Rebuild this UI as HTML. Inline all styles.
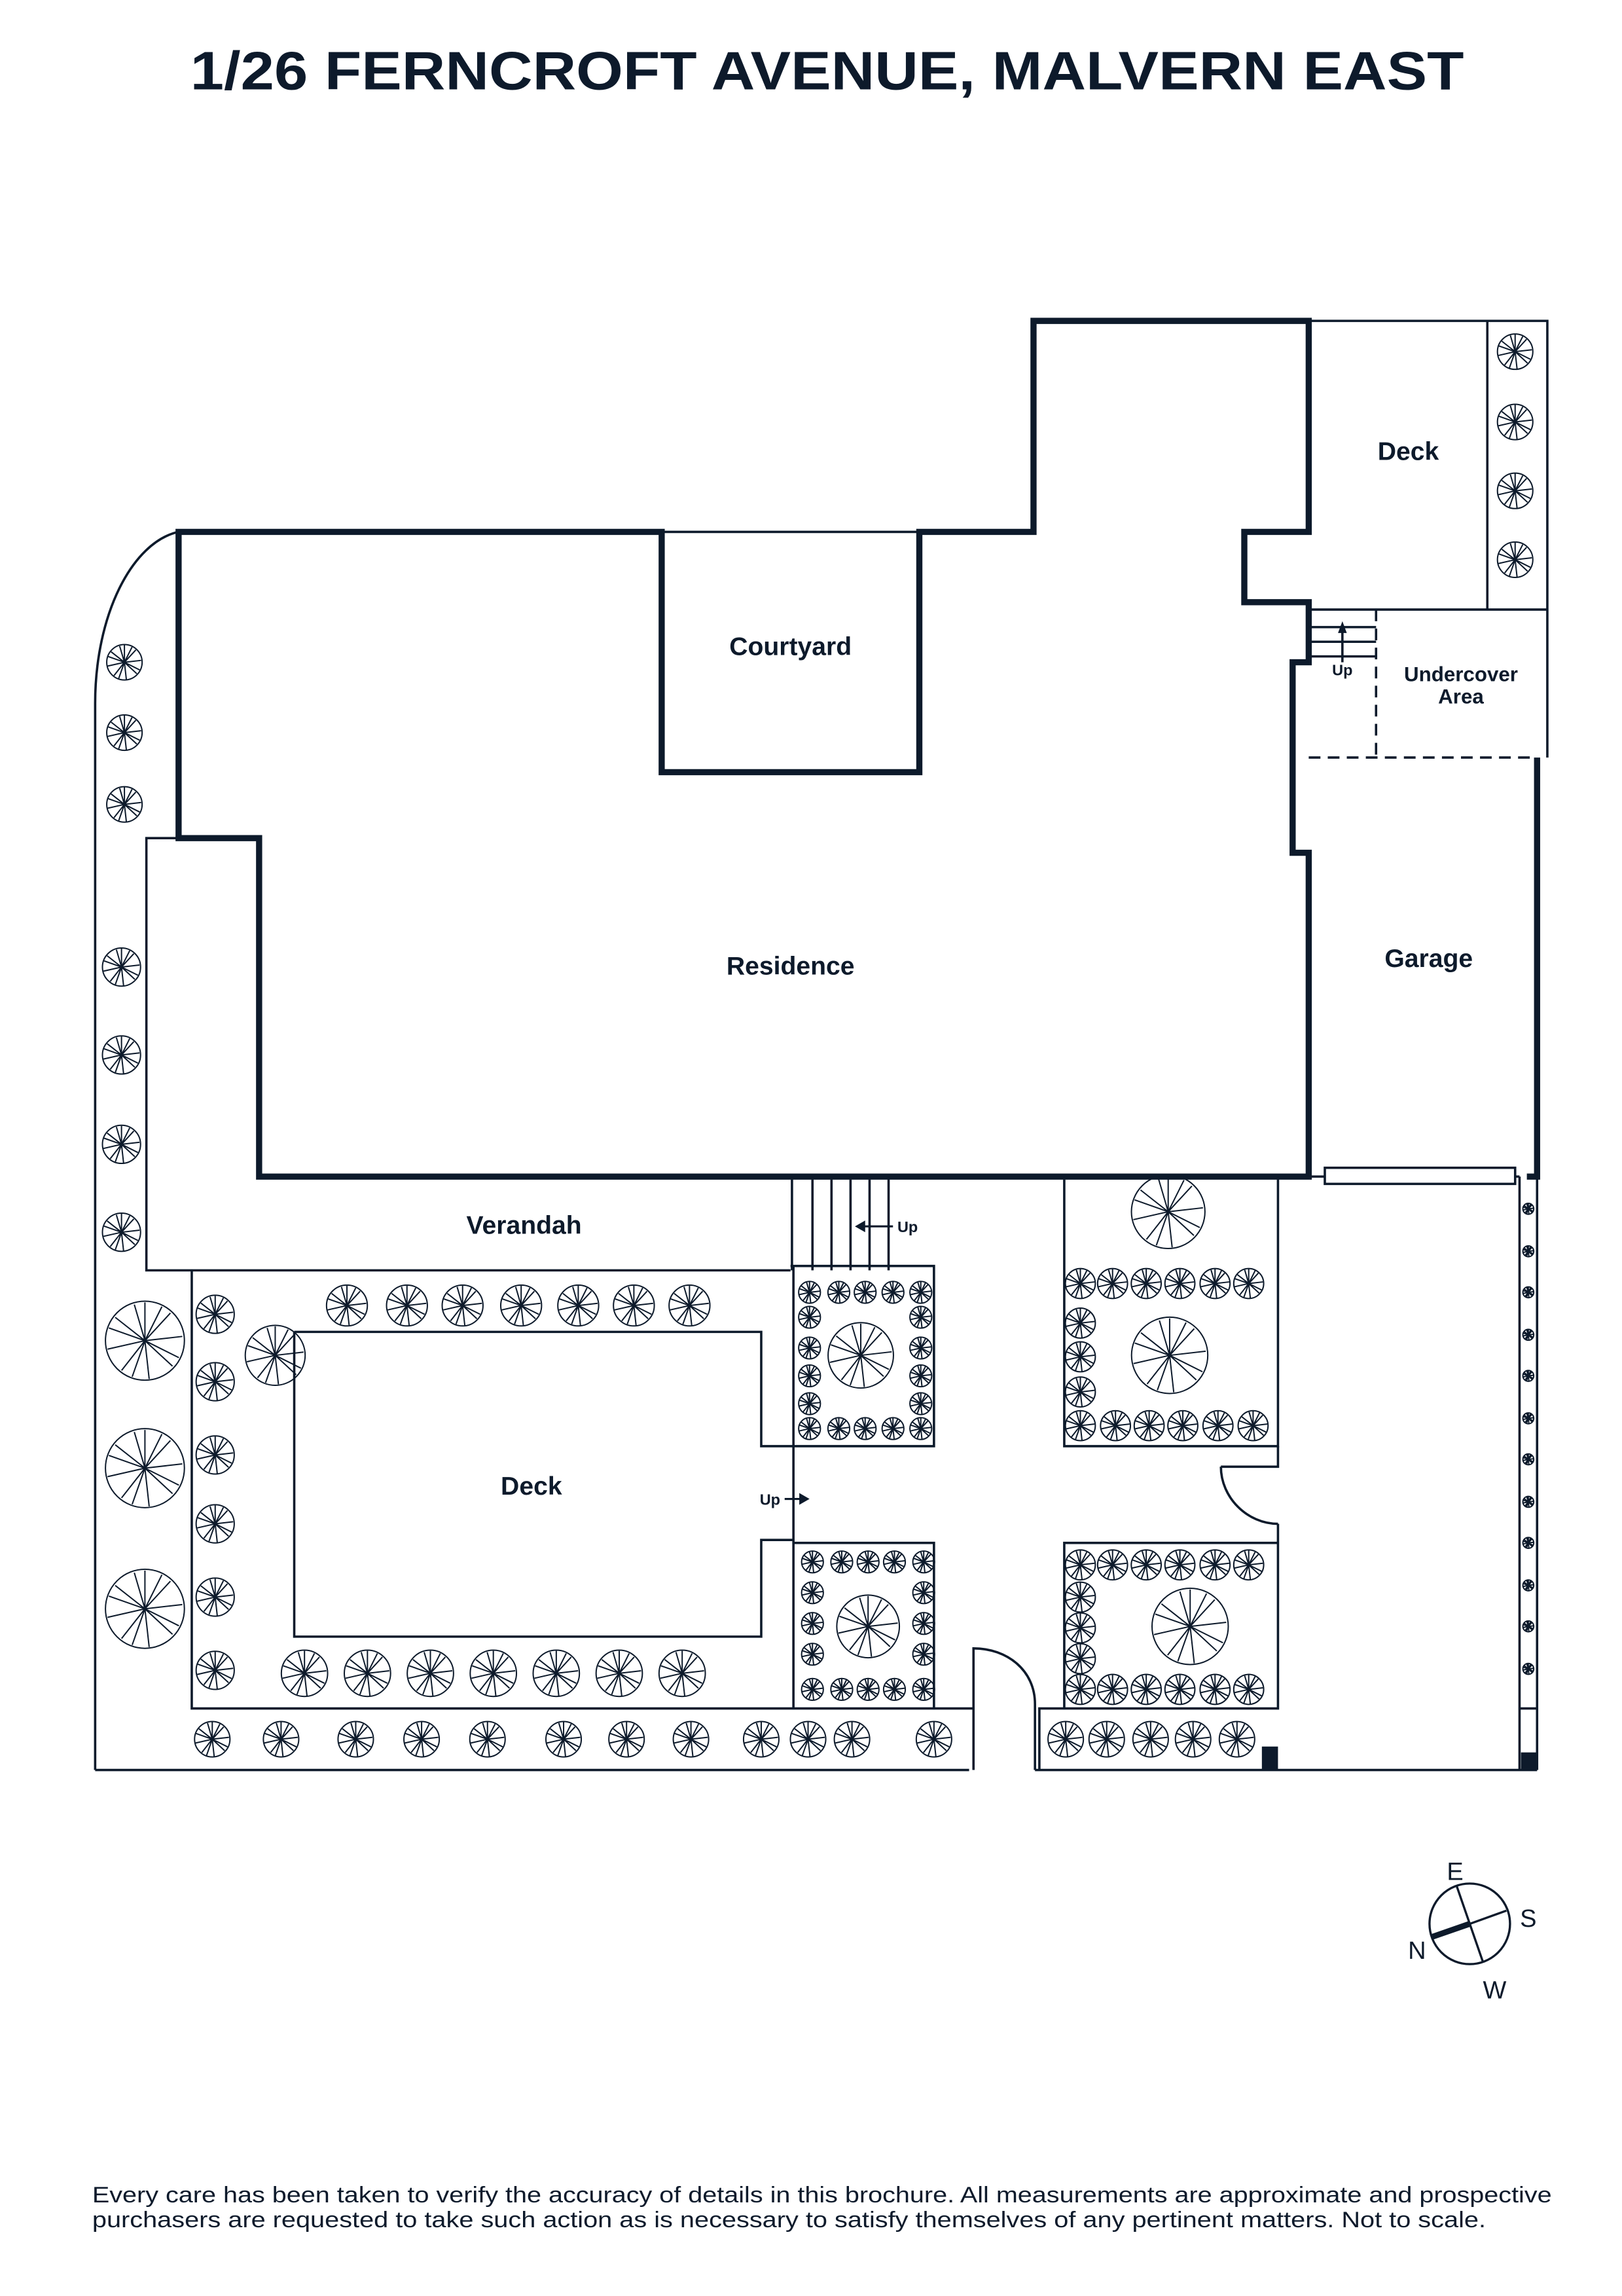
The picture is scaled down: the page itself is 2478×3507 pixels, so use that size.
<!DOCTYPE html>
<html><head><meta charset="utf-8"><style>
html,body{margin:0;padding:0;background:#fff;}
svg{display:block;}
text{font-family:"Liberation Sans",sans-serif;fill:#0d1a2b;}
</style></head><body>
<svg width="2478" height="3507" viewBox="0 0 1108 1567" preserveAspectRatio="none" xmlns="http://www.w3.org/2000/svg">
<defs>
<symbol id="t" viewBox="-10 -10 20 20" overflow="visible">
<g fill="none" stroke="#0d1a2b" stroke-width="2" vector-effect="non-scaling-stroke">
<circle r="9.3" vector-effect="non-scaling-stroke"/>
<path vector-effect="non-scaling-stroke" d="M0 0L0 -9M0 0L4 -8M0 0L6 -6.5M0 0L8.8 -1M0 0L8 4M0 0L6.5 6M0 0L1 9M0 0L-3 8.5M0 0L-5.5 7M0 0L-8.8 2M0 0L-8.5 -3M0 0L-7 -5.5M0 0L-2.5 -8.5"/>
</g>
</symbol>
</defs>
<rect width="1108" height="1567" fill="#fff"/>
<text x="565" y="61" font-size="37" font-weight="bold" text-anchor="middle" textLength="870" lengthAdjust="spacingAndGlyphs">1/26 FERNCROFT AVENUE, MALVERN EAST</text>

<g fill="none" stroke="#0d1a2b" stroke-width="1.6">
<path d="M65 1208 L65 480 C65 420 90 370 122 363"/>
<path d="M122 572 L100 572 L100 867 L540 867"/>
<path d="M131 867 L131 1166 L665 1166"/>
<path d="M65 1208 L662 1208"/>
<path d="M707 1208 L1050 1208"/>
<path d="M201 909 L520 909 L520 987 L542 987"/>
<path d="M201 909 L201 1117 L520 1117 L520 1051 L542 1051"/>
<path d="M542 864 L542 1166"/>
<path d="M540 864 L638 864 L638 987 L542 987"/>
<path d="M542 1053 L638 1053 L638 1166"/>
<path d="M541 805 V867 M555 805 V867 M568 805 V867 M581 805 V867 M594 805 V867 M607 805 V867"/>
<path d="M727 805 L727 987 L873 987 L873 805"/>
<path d="M727 1166 L727 1053 L873 1053"/>
<path d="M873 1040 L873 1166 L710 1166 L710 1208"/>
<path d="M873 987 L873 1001 L834 1001"/>
<path d="M834 1001 C834 1022 852 1040 873 1040"/>
<path d="M665 1208 L665 1125 C688 1125 707 1140 707 1163 L707 1208"/>
<path d="M894 803 L1038 803"/>
<path d="M1038 803 L1038 1208 M1050 803 L1050 1208 M1038 1166 L1050 1166"/>
<path d="M894 219 L1057 219 L1057 517 M1016 219 L1016 416 M894 416 L1057 416"/>
<path d="M896 428 H940 M896 438 H940 M896 448 H940"/>
<path d="M917 452 L917 430"/>
<path d="M894 517 L1050 517 M940 416 L940 517" stroke-dasharray="8 5"/>
<rect x="905" y="797" width="130" height="11" fill="#fff"/>
</g>
<path d="M917 424 L914 432 L920 432 Z" fill="#0d1a2b"/>
<path d="M610 837 L588 837" stroke="#0d1a2b" stroke-width="1.4"/>
<path d="M584 837 L591 833 L591 841 Z" fill="#0d1a2b"/>
<path d="M536 1023 L548 1023" stroke="#0d1a2b" stroke-width="1.4"/>
<path d="M553 1023 L546 1019 L546 1027 Z" fill="#0d1a2b"/>

<g fill="none" stroke="#0d1a2b" stroke-width="4.2" stroke-linejoin="miter">
<path d="M122 363 L452 363 L452 527 L628 527 L628 363 L706 363 L706 219 L894 219 L894 363 L850 363 L850 411 L894 411 L894 452 L883 452 L883 582 L894 582 L894 803 L177 803 L177 572 L122 572 Z"/>
<path d="M1050 517 L1050 803 L1043 803"/>
</g>
<path d="M452 363 L628 363" stroke="#0d1a2b" stroke-width="1.6"/>
<rect x="862" y="1192" width="11" height="16" fill="#0d1a2b"/>
<rect x="1039" y="1196" width="11" height="12" fill="#0d1a2b"/>

<g font-weight="bold" font-size="17.5" text-anchor="middle">
<text x="962" y="314">Deck</text>
<text x="540" y="447">Courtyard</text>
<text x="540" y="665">Residence</text>
<text x="976" y="660">Garage</text>
<text x="358" y="842">Verandah</text>
<text x="363" y="1020">Deck</text>
<text x="998" y="465" font-size="14">Undercover</text>
<text x="998" y="480" font-size="14">Area</text>
<text x="917" y="461" font-size="10.5">Up</text>
<text x="620" y="841" font-size="10.5">Up</text>
<text x="526" y="1027" font-size="10.5">Up</text>
</g>

<g>
<use href="#t" x="72" y="439" width="26" height="26"/>
<use href="#t" x="72" y="487" width="26" height="26"/>
<use href="#t" x="72" y="536" width="26" height="26"/>
<use href="#t" x="69" y="646" width="28" height="28"/>
<use href="#t" x="69" y="706" width="28" height="28"/>
<use href="#t" x="69" y="767" width="28" height="28"/>
<use href="#t" x="69" y="827" width="28" height="28"/>
<use href="#t" x="70" y="886" width="58" height="58"/>
<use href="#t" x="70" y="973" width="58" height="58"/>
<use href="#t" x="70" y="1069" width="58" height="58"/>
<use href="#t" x="133" y="883" width="28" height="28"/>
<use href="#t" x="133" y="929" width="28" height="28"/>
<use href="#t" x="133" y="979" width="28" height="28"/>
<use href="#t" x="133" y="1026" width="28" height="28"/>
<use href="#t" x="133" y="1076" width="28" height="28"/>
<use href="#t" x="133" y="1126" width="28" height="28"/>
<use href="#t" x="166" y="903" width="44" height="44"/>
<use href="#t" x="222" y="876" width="30" height="30"/>
<use href="#t" x="263" y="876" width="30" height="30"/>
<use href="#t" x="301" y="876" width="30" height="30"/>
<use href="#t" x="341" y="876" width="30" height="30"/>
<use href="#t" x="380" y="876" width="30" height="30"/>
<use href="#t" x="418" y="876" width="30" height="30"/>
<use href="#t" x="456" y="876" width="30" height="30"/>
<use href="#t" x="191" y="1125" width="34" height="34"/>
<use href="#t" x="234" y="1125" width="34" height="34"/>
<use href="#t" x="277" y="1125" width="34" height="34"/>
<use href="#t" x="320" y="1125" width="34" height="34"/>
<use href="#t" x="363" y="1125" width="34" height="34"/>
<use href="#t" x="406" y="1125" width="34" height="34"/>
<use href="#t" x="449" y="1125" width="34" height="34"/>
<use href="#t" x="132" y="1174" width="26" height="26"/>
<use href="#t" x="179" y="1174" width="26" height="26"/>
<use href="#t" x="230" y="1174" width="26" height="26"/>
<use href="#t" x="275" y="1174" width="26" height="26"/>
<use href="#t" x="320" y="1174" width="26" height="26"/>
<use href="#t" x="372" y="1174" width="26" height="26"/>
<use href="#t" x="415" y="1174" width="26" height="26"/>
<use href="#t" x="459" y="1174" width="26" height="26"/>
<use href="#t" x="507" y="1174" width="26" height="26"/>
<use href="#t" x="539" y="1174" width="26" height="26"/>
<use href="#t" x="569" y="1174" width="26" height="26"/>
<use href="#t" x="625" y="1174" width="26" height="26"/>
<use href="#t" x="545" y="874" width="16" height="16"/>
<use href="#t" x="565" y="874" width="16" height="16"/>
<use href="#t" x="583" y="874" width="16" height="16"/>
<use href="#t" x="602" y="874" width="16" height="16"/>
<use href="#t" x="621" y="874" width="16" height="16"/>
<use href="#t" x="545" y="967" width="16" height="16"/>
<use href="#t" x="565" y="967" width="16" height="16"/>
<use href="#t" x="583" y="967" width="16" height="16"/>
<use href="#t" x="602" y="967" width="16" height="16"/>
<use href="#t" x="621" y="967" width="16" height="16"/>
<use href="#t" x="545" y="891" width="16" height="16"/>
<use href="#t" x="545" y="912" width="16" height="16"/>
<use href="#t" x="545" y="931" width="16" height="16"/>
<use href="#t" x="545" y="950" width="16" height="16"/>
<use href="#t" x="621" y="891" width="16" height="16"/>
<use href="#t" x="621" y="912" width="16" height="16"/>
<use href="#t" x="621" y="931" width="16" height="16"/>
<use href="#t" x="621" y="950" width="16" height="16"/>
<use href="#t" x="564" y="901" width="48" height="48"/>
<use href="#t" x="547" y="1058" width="16" height="16"/>
<use href="#t" x="567" y="1058" width="16" height="16"/>
<use href="#t" x="585" y="1058" width="16" height="16"/>
<use href="#t" x="603" y="1058" width="16" height="16"/>
<use href="#t" x="623" y="1058" width="16" height="16"/>
<use href="#t" x="547" y="1145" width="16" height="16"/>
<use href="#t" x="567" y="1145" width="16" height="16"/>
<use href="#t" x="585" y="1145" width="16" height="16"/>
<use href="#t" x="603" y="1145" width="16" height="16"/>
<use href="#t" x="623" y="1145" width="16" height="16"/>
<use href="#t" x="547" y="1079" width="16" height="16"/>
<use href="#t" x="547" y="1100" width="16" height="16"/>
<use href="#t" x="547" y="1121" width="16" height="16"/>
<use href="#t" x="623" y="1079" width="16" height="16"/>
<use href="#t" x="623" y="1100" width="16" height="16"/>
<use href="#t" x="623" y="1121" width="16" height="16"/>
<use href="#t" x="570" y="1087" width="46" height="46"/>
<use href="#t" x="771" y="797" width="54" height="60"/>
<use href="#t" x="727" y="865" width="22" height="22"/>
<use href="#t" x="749" y="865" width="22" height="22"/>
<use href="#t" x="772" y="865" width="22" height="22"/>
<use href="#t" x="795" y="865" width="22" height="22"/>
<use href="#t" x="819" y="865" width="22" height="22"/>
<use href="#t" x="842" y="865" width="22" height="22"/>
<use href="#t" x="727" y="892" width="22" height="22"/>
<use href="#t" x="727" y="915" width="22" height="22"/>
<use href="#t" x="727" y="939" width="22" height="22"/>
<use href="#t" x="771" y="897" width="56" height="56"/>
<use href="#t" x="727" y="962" width="22" height="22"/>
<use href="#t" x="751" y="962" width="22" height="22"/>
<use href="#t" x="774" y="962" width="22" height="22"/>
<use href="#t" x="797" y="962" width="22" height="22"/>
<use href="#t" x="821" y="962" width="22" height="22"/>
<use href="#t" x="845" y="962" width="22" height="22"/>
<use href="#t" x="727" y="1057" width="22" height="22"/>
<use href="#t" x="749" y="1057" width="22" height="22"/>
<use href="#t" x="772" y="1057" width="22" height="22"/>
<use href="#t" x="795" y="1057" width="22" height="22"/>
<use href="#t" x="819" y="1057" width="22" height="22"/>
<use href="#t" x="842" y="1057" width="22" height="22"/>
<use href="#t" x="727" y="1079" width="22" height="22"/>
<use href="#t" x="727" y="1100" width="22" height="22"/>
<use href="#t" x="727" y="1121" width="22" height="22"/>
<use href="#t" x="785" y="1082" width="56" height="56"/>
<use href="#t" x="727" y="1142" width="22" height="22"/>
<use href="#t" x="749" y="1142" width="22" height="22"/>
<use href="#t" x="772" y="1142" width="22" height="22"/>
<use href="#t" x="795" y="1142" width="22" height="22"/>
<use href="#t" x="819" y="1142" width="22" height="22"/>
<use href="#t" x="842" y="1142" width="22" height="22"/>
<use href="#t" x="715" y="1174" width="26" height="26"/>
<use href="#t" x="743" y="1174" width="26" height="26"/>
<use href="#t" x="773" y="1174" width="26" height="26"/>
<use href="#t" x="802" y="1174" width="26" height="26"/>
<use href="#t" x="832" y="1174" width="26" height="26"/>
<use href="#t" x="1022" y="227" width="26" height="26"/>
<use href="#t" x="1022" y="275" width="26" height="26"/>
<use href="#t" x="1022" y="322" width="26" height="26"/>
<use href="#t" x="1022" y="369" width="26" height="26"/>
<use href="#t" x="1040" y="821" width="8" height="8"/>
<use href="#t" x="1040" y="850" width="8" height="8"/>
<use href="#t" x="1040" y="878" width="8" height="8"/>
<use href="#t" x="1040" y="907" width="8" height="8"/>
<use href="#t" x="1040" y="935" width="8" height="8"/>
<use href="#t" x="1040" y="964" width="8" height="8"/>
<use href="#t" x="1040" y="992" width="8" height="8"/>
<use href="#t" x="1040" y="1021" width="8" height="8"/>
<use href="#t" x="1040" y="1049" width="8" height="8"/>
<use href="#t" x="1040" y="1078" width="8" height="8"/>
<use href="#t" x="1040" y="1106" width="8" height="8"/>
<use href="#t" x="1040" y="1135" width="8" height="8"/>
</g>

<g stroke="#0d1a2b" fill="none">
<circle cx="1004" cy="1313" r="27.5" stroke-width="1.5"/>
<path d="M995 1287 L1013 1339 M1029 1304 L1004 1313" stroke-width="1.5"/>
<path d="M1004 1313 L978 1322" stroke-width="4"/>
</g>
<g font-size="17" text-anchor="middle">
<text x="994" y="1283">E</text>
<text x="1044" y="1315">S</text>
<text x="968" y="1337">N</text>
<text x="1021" y="1364">W</text>
</g>

<g font-size="15.5">
<text x="63" y="1503" textLength="997" lengthAdjust="spacingAndGlyphs">Every care has been taken to verify the accuracy of details in this brochure. All measurements are approximate and prospective</text>
<text x="63" y="1520" textLength="952" lengthAdjust="spacingAndGlyphs">purchasers are requested to take such action as is necessary to satisfy themselves of any pertinent matters. Not to scale.</text>
</g>
</svg>
</body></html>
